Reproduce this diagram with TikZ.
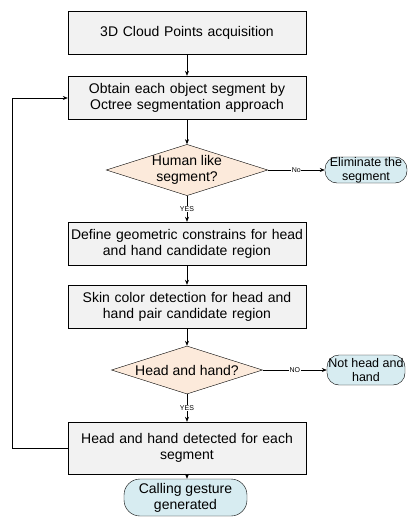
\documentclass[tikz,border=0pt]{standalone}
\usepackage{fontspec}
\setmainfont{Liberation Sans}
\usetikzlibrary{shapes.geometric,arrows.meta}
\definecolor{boxfill}{HTML}{F2F2F2}
\definecolor{decfill}{HTML}{FCEADB}
\definecolor{termfill}{HTML}{D7ECF1}
\tikzset{
  procbox/.style={draw, fill=boxfill, minimum width=238pt, text width=236pt, align=center, inner sep=0pt, font=\fontsize{14}{16}\selectfont},
  decbox/.style={draw, fill=decfill, diamond, aspect=3.15, inner sep=0pt, minimum width=151pt, minimum height=48pt, align=center, font=\fontsize{14}{16}\selectfont},
  termbox/.style={draw, fill=termfill, rounded corners=12pt, align=center, inner sep=0pt, font=\fontsize{12.5}{14}\selectfont},
  arr/.style={-{Stealth[length=5pt,width=4pt]}, line width=0.6pt},
  lbl/.style={font=\fontsize{7}{8}\selectfont, fill=white, inner sep=0.5pt}
}
\begin{document}
\begin{tikzpicture}[x=1pt,y=-1pt]
\useasboundingbox (0,0) rectangle (409,517);
\node[procbox, minimum height=43pt] (b1) at (187,32.5) {3D Cloud Points acquisition};
\node[procbox, minimum height=43pt] (b2) at (187,97.5) {Obtain each object segment by\\Octree segmentation approach};
\node[decbox] (d1) at (187,170) {Human like\\segment?};
\node[termbox, minimum width=82pt, minimum height=26pt] (t1) at (366,170) {Eliminate the\\segment};
\node[procbox, minimum height=43pt] (b3) at (187,243.5) {Define geometric constrains for head\\and hand candidate region};
\node[procbox, minimum height=43pt] (b4) at (187,306.5) {Skin color detection for head and\\hand pair candidate region};
\node[decbox] (d2) at (187,370) {Head and hand?};
\node[termbox, minimum width=78pt, minimum height=30pt] (t2) at (366,370) {Not head and\\hand};
\node[procbox, minimum height=52pt] (b5) at (187,448) {Head and hand detected for each\\segment};
\node[termbox, minimum width=123pt, minimum height=37pt, rounded corners=16pt, font=\fontsize{14}{16}\selectfont] (t3) at (185.5,497.5) {Calling gesture\\generated};
\coordinate (lb) at (12,448);
\coordinate (lt) at (12,98);
\draw[arr] (b1) -- (b2);
\draw[arr] (b2) -- (d1);
\draw[arr] (d1) -- node[lbl]{No} (t1);
\draw[arr] (d1) -- node[lbl]{YES} (b3);
\draw[arr] (b3) -- (b4);
\draw[arr] (b4) -- (d2);
\draw[arr] (d2) -- node[lbl]{NO} (t2);
\draw[arr] (d2) -- node[lbl]{YES} (b5);
\draw[arr] (b5) -- (b5.south |- t3.north);
\draw[arr] (b5.west) -- (lb) -- (lt) -- (b2.west |- lt);
\end{tikzpicture}
\end{document}
